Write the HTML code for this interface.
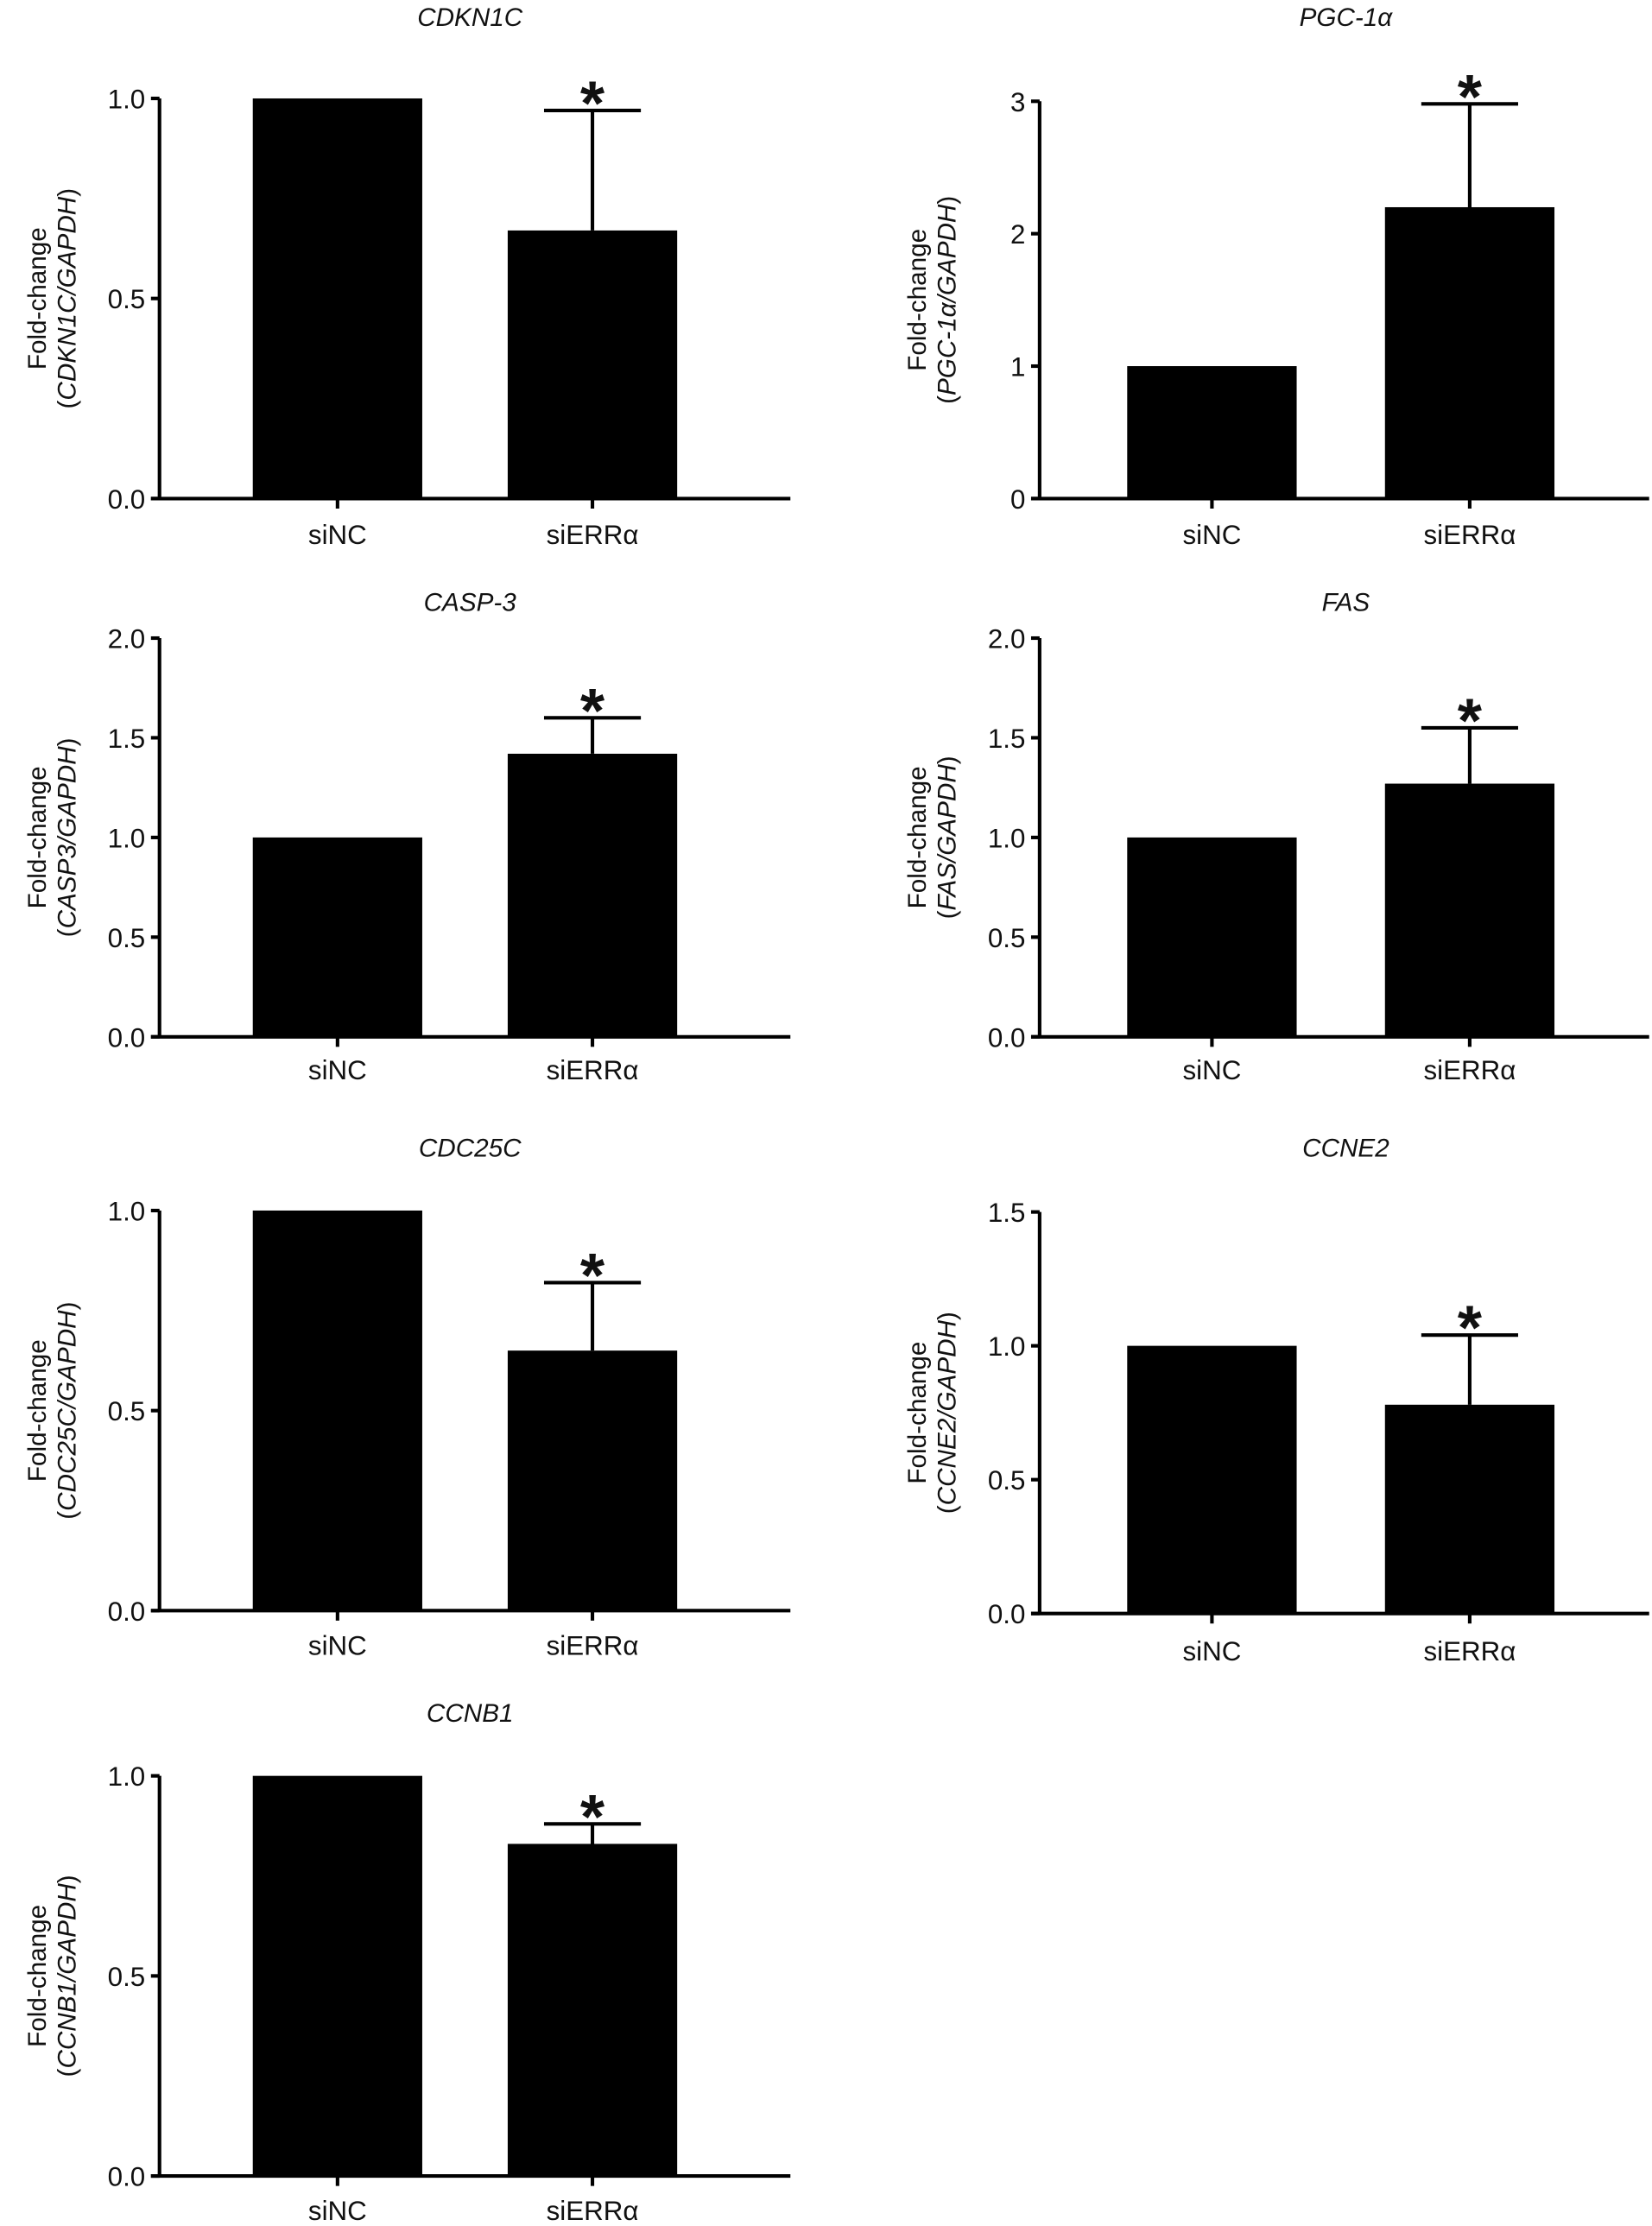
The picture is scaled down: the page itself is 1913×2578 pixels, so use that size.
<!DOCTYPE html>
<html><head><meta charset="utf-8"><style>
html,body{margin:0;padding:0;background:#fff;}
svg{display:block;}
text{font-family:"Liberation Sans",Arial,sans-serif;fill:#111;}
</style></head>
<body>
<svg id="fig" width="1913" height="2578" viewBox="0 0 1160 1563" xmlns="http://www.w3.org/2000/svg"></svg>
<script>
const genes = ["CDKN1C","PGC-1α","CASP-3","FAS","CDC25C","CCNE2","CCNB1"];
const labelGenes = ["CDKN1C","PGC-1α","CASP3","FAS","CDC25C","CCNE2","CCNB1"];
const categories = ["siNC","siERRα"];
const siNCValues = [1.0,1.0,1.0,1.0,1.0,1.0,1.0];
const siERRValues = [0.67,2.2,1.42,1.27,0.65,0.78,0.83];
const errTops = [0.97,2.98,1.6,1.55,0.82,1.04,0.88];
const yMaxes = [1.0,3,2.0,2.0,1.0,1.5,1.0];
const yTicks = [[0,0.5,1.0],[0,1,2,3],[0,0.5,1.0,1.5,2.0],[0,0.5,1.0,1.5,2.0],[0,0.5,1.0],[0,0.5,1.0,1.5],[0,0.5,1.0]];
const tickDecimals = [1,0,1,1,1,1,1];

// layout (not data)
const L={c1:125,c2:304,end:443}, R={c1:121,c2:302,end:428};
const panels = [
 {ax:112,yTop:69,yBot:350,tx:330,ty:18,ly:382,o:L},
 {ax:730,yTop:71,yBot:350,tx:945,ty:18,ly:382,o:R},
 {ax:112,yTop:448,yBot:728,tx:330,ty:429,ly:758,o:L},
 {ax:730,yTop:448,yBot:728,tx:945,ty:429,ly:758,o:R},
 {ax:112,yTop:850,yBot:1131,tx:330,ty:812,ly:1162,o:L},
 {ax:730,yTop:851,yBot:1133,tx:945,ty:812,ly:1166,o:R},
 {ax:112,yTop:1247,yBot:1528,tx:330,ty:1209,ly:1559,o:L}
];
const NS="http://www.w3.org/2000/svg";
const svg=document.getElementById('fig');
function mk(tag,attrs,parent){const e=document.createElementNS(NS,tag);for(const k in attrs)e.setAttribute(k,attrs[k]);(parent||svg).appendChild(e);return e;}

panels.forEach((p,i)=>{
 const g=mk('g',{});
 
 
 const y=v=>p.yBot-(v/yMaxes[i])*(p.yBot-p.yTop);
 const xEnd=p.ax+p.o.end;
 const c1=p.ax+p.o.c1, c2=p.ax+p.o.c2, bw=119;
 const t=mk('text',{x:p.tx,y:p.ty,'text-anchor':'middle','font-size':18,'font-style':'italic'},g);
 t.textContent=genes[i];
 
 
 [[c1,siNCValues[i]],[c2,siERRValues[i]]].forEach((b,j)=>{
  const r=mk('rect',{x:b[0]-bw/2,y:y(b[1]),width:bw,height:p.yBot-y(b[1]),fill:'#000'},g);
  
  
 });
 const eb=mk('path',{d:`M${c2},${y(siERRValues[i])}V${y(errTops[i])}M${c2-34},${y(errTops[i])}H${c2+34}`,stroke:'#000','stroke-width':2.5,fill:'none'},g);
 
 
 const st=mk('text',{x:c2,y:y(errTops[i])+10,'text-anchor':'middle','font-size':44,'font-weight':'bold'},g);
 st.textContent='*';
 
 
 const ya=mk('path',{d:`M${p.ax},${p.yTop}V${p.yBot}`,stroke:'#000','stroke-width':2.5},g);
 
 
 const xa=mk('path',{d:`M${p.ax-6},${p.yBot}H${xEnd}M${c1},${p.yBot}v7M${c2},${p.yBot}v7`,stroke:'#000','stroke-width':2.5},g);
 
 
 yTicks[i].forEach(v=>{
  mk('path',{d:`M${p.ax-6},${y(v)}H${p.ax}`,stroke:'#000','stroke-width':2.5},g);
  const tl=mk('text',{x:p.ax-10,y:y(v)+7,'text-anchor':'end','font-size':19},g);
  tl.textContent=v.toFixed(tickDecimals[i]);
  
  
 });
 categories.forEach((c,j)=>{
  const cl=mk('text',{x:j?c2:c1,y:p.ly,'text-anchor':'middle','font-size':19},g);
  cl.textContent=c;
  
  
 });
 const cy=(p.yTop+p.yBot)/2, lx=p.ax-80;
 const yl=mk('text',{transform:`translate(${lx},${cy}) rotate(-90)`,'text-anchor':'middle','font-size':18},g);
 
 
 const t1=mk('tspan',{x:0,y:0},yl); t1.textContent='Fold-change';
 const t2=mk('tspan',{x:0,y:21},yl); t2.textContent='(';
 const t3=mk('tspan',{'font-style':'italic'},yl); t3.textContent=labelGenes[i]+'/GAPDH';
 const t4=mk('tspan',{},yl); t4.textContent=')';
});
</script>
</body></html>
